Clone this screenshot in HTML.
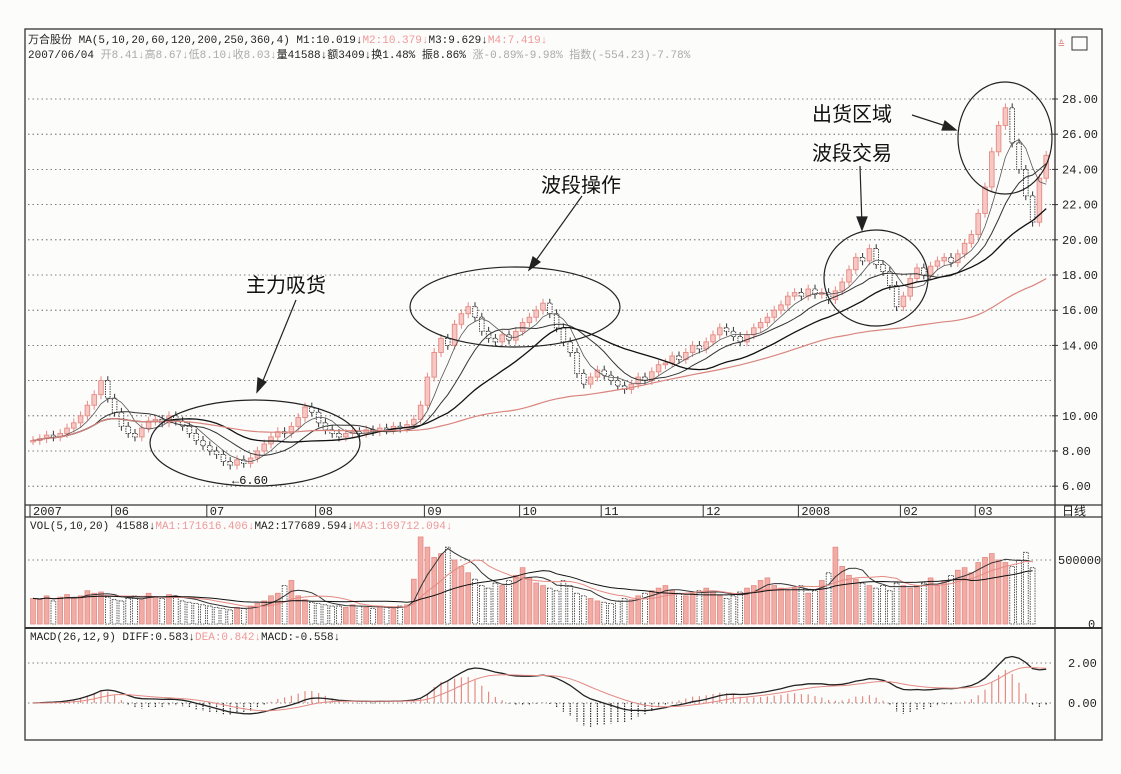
<!DOCTYPE html>
<html><head><meta charset="utf-8">
<style>
html,body{margin:0;padding:0;background:#fcfcfb;}
svg{display:block;font-family:"Liberation Mono","Noto Sans CJK SC",monospace;}
</style></head>
<body>
<svg id="chart" width="1121" height="774" viewBox="0 0 1121 774" xmlns="http://www.w3.org/2000/svg">
<g id="frame" fill="none" stroke="#333" stroke-width="1.3">
  <rect x="25" y="29" width="1077" height="711"/>
  <line x1="1055" y1="29" x2="1055" y2="740"/>
  <line x1="25" y1="505" x2="1102" y2="505"/>
  <line x1="25" y1="517" x2="1102" y2="517"/>
  <line x1="25" y1="628" x2="1102" y2="628" stroke-width="2"/>
</g>
<g id="grid"></g>
<g id="candles"></g>
<g id="mas"></g>
<g id="vol"></g>
<g id="macd"></g>
<g id="axes" font-size="12" fill="#222"></g>
<g font-size="11" fill="#222">
  <text x="28" y="43">万合股份 MA(5,10,20,60,120,200,250,360,4) M1:10.019↓<tspan fill="#e99">M2:10.379↓</tspan>M3:9.629↓<tspan fill="#e99">M4:7.419↓</tspan></text>
  <text x="28" y="58">2007/06/04 <tspan fill="#aaa">开8.41↓高8.67↓低8.10↓收8.03↓</tspan>量41588↓额3409↓换1.48% 振8.86% <tspan fill="#aaa">涨-0.89%-9.98% 指数(-554.23)-7.78%</tspan></text>
  <text x="1058" y="48" fill="#d88" font-size="11">≙</text>
  <rect x="1072" y="37" width="15" height="13" fill="none" stroke="#333"/>
  <text x="30" y="529">VOL(5,10,20) 41588↓<tspan fill="#e99">MA1:171616.406↓</tspan>MA2:177689.594↓<tspan fill="#e99">MA3:169712.094↓</tspan></text>
  <text x="30" y="640">MACD(26,12,9) DIFF:0.583↓<tspan fill="#e99">DEA:0.842↓</tspan>MACD:-0.558↓</text>
</g>
<g id="notes" fill="none" stroke="#222" stroke-width="1.2">
  <ellipse cx="255" cy="443" rx="105" ry="43"/>
  <ellipse cx="515" cy="307" rx="105" ry="40"/>
  <ellipse cx="876" cy="278" rx="52" ry="48"/>
  <ellipse cx="1005" cy="138" rx="47" ry="56"/>
  <line x1="296" y1="300" x2="260" y2="388"/>
  <polygon points="257,392 258,378 266,382" fill="#222"/>
  <line x1="582" y1="196" x2="532" y2="266"/>
  <polygon points="529,270 533,257 540,262" fill="#222"/>
  <line x1="860" y1="166" x2="862" y2="226"/>
  <polygon points="862,230 857,217 867,217" fill="#222"/>
  <line x1="912" y1="115" x2="952" y2="128"/>
  <polygon points="956,130 942,130 945,121" fill="#222"/>
</g>
<g font-family="'Liberation Sans','Noto Sans CJK SC',sans-serif" font-size="20" fill="#111">
  <text x="246" y="292">主力吸货</text>
  <text x="541" y="192">波段操作</text>
  <text x="812" y="160">波段交易</text>
  <text x="812" y="121">出货区域</text>
  <text x="232" y="484" font-size="12" font-family="'Liberation Mono',monospace">←6.60</text>
</g>
<script>
const closes=[8.6,8.7,8.9,8.8,9.0,9.3,9.6,10.0,10.6,11.2,
12.0,11.0,10.2,9.4, 9.0,8.8,9.3,9.7, 9.8,9.6,10.0,9.7,9.4, 9.0,8.6,8.3,8.0,7.8,
7.4,7.2,7.5,7.3, 7.6,8.0,8.4,8.8,9.1, 9.0,9.4,9.9,10.5,10.2, 9.6,9.2,9.0,8.8,9.0,
9.1,9.0,9.2,9.1,9.3,9.2,9.4,9.3,9.5,9.8, 10.6,12.2,13.6,14.4,14.0,15.2,15.8,16.2,15.6,
14.8,14.4,14.2,14.6,14.3, 14.8,15.3,15.6,16.0,16.4,15.8,15.0,14.2, 13.6,12.4,11.8,12.2,12.6,12.3,
12.0,11.7,11.5,11.8,12.2,12.0, 12.5,12.9,13.0,13.4,13.2,13.6,14.0, 13.8,14.2,14.6,15.0,14.8,14.5,14.2,
14.6,15.0,15.3,15.6,16.0,16.3,16.8,17.0, 16.8,17.2,16.9,17.0,16.6,17.1, 17.6,18.3,19.0,18.8,19.5,18.6,18.2,
17.4,16.2,16.8,17.8,18.4,18.0, 18.5,18.8,19.0,18.7,19.2,19.8,20.3, 21.5,23.0,25.0,26.5,27.5,25.5,
24.0,22.5,21.0,23.5,24.8];
const volumes=[20,19,22,18,21,23,20,22,26,24,
25,21,19,18,20,22,19,24,21,20,23,22,18,17,16,15,14,13,
12,11,13,12,14,16,18,22,24,30,34,22,19,17,16,15,14,
14,13,15,14,13,12,14,13,12,14,15, 35,68,60,52,55,60,50,45,40,
35,30,28,32,30,34,38,44,36,32,30,28, 26,34,30,24,22,20,
18,17,16,18,20,19, 22,24,26,28,30,26,24, 22,24,26,28,25,22,20,
22,25,28,30,34,36,30,28, 26,28,30,24,26,34, 40,60,45,38,35,32,30,
28,30,26,32,30,28, 30,32,36,30,34,38,42, 44,40,48,52,55,50,
48,45,50,56,44];
const priceTicks=["6.00","8.00","10.00","14.00","16.00","18.00","20.00","22.00","24.00","26.00","28.00"];
const dateLabels=["2007","06","07","08","09","10","11","12","2008","02","03"];
const dateIdx=[0,12,26,42,58,72,84,99,113,128,139];

const NS="http://www.w3.org/2000/svg";
function mk(tag,attrs,parent){const e=document.createElementNS(NS,tag);for(const k in attrs)e.setAttribute(k,attrs[k]);parent.appendChild(e);return e;}
const x0=30,step=6.8;
const X=i=>x0+i*step+3;
const Y=p=>99+(28-p)*17.6;
const VY=v=>624-v*10000/500000*64;
const MY=m=>703-m*20;

// grid
const grid=document.getElementById('grid');
for(let p=6;p<=28;p+=2){
  const g=mk('line',{x1:28,x2:1052,y1:Y(p),y2:Y(p),stroke:'#555','stroke-width':0.8,'stroke-dasharray':'1.5 3'},grid);
  
  
}
mk('line',{x1:28,x2:1052,y1:VY(50),y2:VY(50),stroke:'#555','stroke-width':0.8,'stroke-dasharray':'1.5 3'},grid);
mk('line',{x1:28,x2:1052,y1:MY(2),y2:MY(2),stroke:'#555','stroke-width':0.8,'stroke-dasharray':'1.5 3'},grid);
mk('line',{x1:28,x2:1052,y1:MY(0),y2:MY(0),stroke:'#555','stroke-width':0.8,'stroke-dasharray':'1.5 3'},grid);

// axes
const axes=document.getElementById('axes');
priceTicks.forEach(t=>{
  const y=Y(parseFloat(t));
  const tx=mk('text',{x:1062,y:y+4},axes);tx.textContent=t;
  
  
  mk('line',{x1:1052,x2:1058,y1:y,y2:y,stroke:'#333'},axes);
});
dateLabels.forEach((d,k)=>{
  const x=X(dateIdx[k])-3;
  const tx=mk('text',{x:x+3,y:515},axes);tx.textContent=d;
  
  
  mk('line',{x1:x,x2:x,y1:505,y2:517,stroke:'#333'},axes);
});
[["500000",VY(50)],["0",VY(0)]].forEach(([t,y])=>{
  const tx=mk('text',{x:t==="0"?1088:1058,y:y+4},axes);tx.textContent=t;
  
  
});
[["2.00",MY(2)],["0.00",MY(0)]].forEach(([t,y])=>{
  const tx=mk('text',{x:1068,y:y+4},axes);tx.textContent=t;
  
  
});
const dl=mk('text',{x:1062,y:515},axes);dl.textContent="日线";



// candles
const cg=document.getElementById('candles');
closes.forEach((c,i)=>{
  const o=i?closes[i-1]:c;
  const up=c>=o;
  const hi=Math.max(o,c)+0.25,lo=Math.min(o,c)-0.25;
  const col=up?'#e58a84':'#333';
  const x=X(i);
  const w=mk('line',{x1:x,x2:x,y1:Y(hi),y2:Y(lo),stroke:col,'stroke-width':1},cg);
  
  
  const top=Y(Math.max(o,c)),h=Math.max(1.5,Y(Math.min(o,c))-top);
  const r=mk('rect',{x:x-2.3,y:top,width:4.6,height:h,fill:up?'#f7c8c3':'#fff',stroke:col,'stroke-width':0.9,'stroke-dasharray':up?'':'1.5 1'},cg);
  
  
});

function sma(arr,n){return arr.map((_,i)=>{const s=Math.max(0,i-n+1);let t=0;for(let j=s;j<=i;j++)t+=arr[j];return t/(i-s+1);});}
function ema(arr,n){const k=2/(n+1);let e=arr[0];return arr.map(v=>(e=e+k*(v-e)));}
function path(vals,fx,fy){return vals.map((v,i)=>(i?'L':'M')+fx(i).toFixed(1)+' '+fy(v).toFixed(1)).join(' ');}

const mg=document.getElementById('mas');
[[5,'#555',0.8],[10,'#333',1],[20,'#111',1.3],[60,'#d9857e',1.2]].forEach(([n,col,w])=>{
  const p=mk('path',{d:path(sma(closes,n),X,Y),fill:'none',stroke:col,'stroke-width':w},mg);
  
  
});

// volume
const vg=document.getElementById('vol');
volumes.forEach((v,i)=>{
  const up=i===0||closes[i]>=closes[i-1];
  const r=mk('rect',{x:X(i)-2.4,y:VY(v),width:4.8,height:624-VY(v),fill:up?'#f2aca6':'#fff',stroke:up?'#e58a84':'#333','stroke-width':0.8,'stroke-dasharray':up?'':'1.5 1'},vg);
  
  
});
[[5,'#333'],[10,'#e58a84'],[20,'#111']].forEach(([n,col])=>{
  const p=mk('path',{d:path(sma(volumes,n),X,VY),fill:'none',stroke:col,'stroke-width':1},vg);
  
  
});

// macd
const mcg=document.getElementById('macd');
const e12=ema(closes,12),e26=ema(closes,26);
const diff=e12.map((v,i)=>v-e26[i]);
const dea=ema(diff,9);
diff.forEach((d,i)=>{
  const h=(d-dea[i])*2;
  const l=mk('line',{x1:X(i),x2:X(i),y1:MY(0),y2:MY(h),stroke:h>=0?'#e58a84':'#333','stroke-width':1.2,'stroke-dasharray':h>=0?'':'1.5 1'},mcg);
  
  
});
const pd=mk('path',{d:path(diff,X,MY),fill:'none',stroke:'#222','stroke-width':1.3},mcg);


const pe=mk('path',{d:path(dea,X,MY),fill:'none',stroke:'#e58a84','stroke-width':1},mcg);


</script>
</svg>
</body></html>
